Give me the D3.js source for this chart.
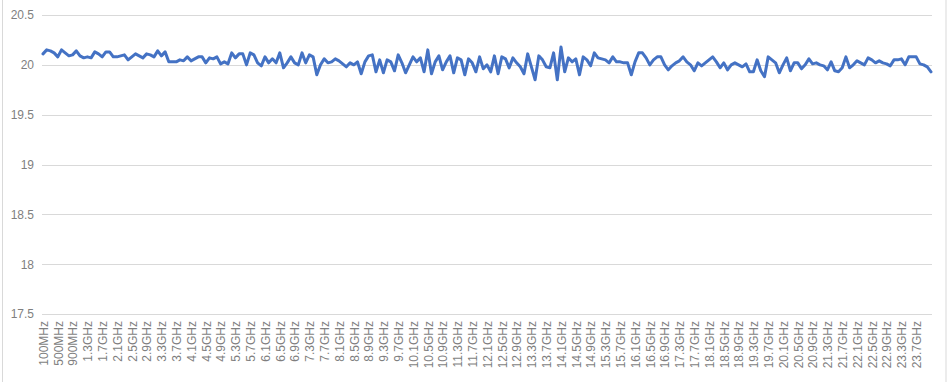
<!DOCTYPE html>
<html>
<head>
<meta charset="utf-8">
<script src="https://cdn.jsdelivr.net/npm/d3@7"></script>
<style>
    body { margin: 0; background: #fff; }
    svg { display: block; font-family: 'Noto Sans', 'Noto Sans CJK SC', sans-serif; }
</style>
</head>
<body>
<svg id="chart" width="949" height="382"></svg>
<script>
// frequency points, 100MHz steps from 100MHz to 24.1GHz
var freqMHz = d3.range(100, 24101, 100)

var yTicks = [17.5, 18, 18.5, 19, 19.5, 20, 20.5]

// one label every fourth point
var tickLabels = ['100MHz', '500MHz', '900MHz', '1.3GHz', '1.7GHz', '2.1GHz', '2.5GHz', '2.9GHz',
    '3.3GHz', '3.7GHz', '4.1GHz', '4.5GHz', '4.9GHz', '5.3GHz', '5.7GHz', '6.1GHz', '6.5GHz',
    '6.9GHz', '7.3GHz', '7.7GHz', '8.1GHz', '8.5GHz', '8.9GHz', '9.3GHz', '9.7GHz', '10.1GHz',
    '10.5GHz', '10.9GHz', '11.3GHz', '11.7GHz', '12.1GHz', '12.5GHz', '12.9GHz', '13.3GHz',
    '13.7GHz', '14.1GHz', '14.5GHz', '14.9GHz', '15.3GHz', '15.7GHz', '16.1GHz', '16.5GHz',
    '16.9GHz', '17.3GHz', '17.7GHz', '18.1GHz', '18.5GHz', '18.9GHz', '19.3GHz', '19.7GHz',
    '20.1GHz', '20.5GHz', '20.9GHz', '21.3GHz', '21.7GHz', '22.1GHz', '22.5GHz', '22.9GHz',
    '23.3GHz', '23.7GHz']

var levels = [
    20.11, 20.15, 20.14, 20.12, 20.08, 20.15, 20.12, 20.09, 20.10, 20.14,
    20.09, 20.07, 20.08, 20.07, 20.13, 20.11, 20.08, 20.13, 20.13, 20.08,
    20.08, 20.09, 20.10, 20.05, 20.08, 20.11, 20.09, 20.07, 20.11, 20.10,
    20.08, 20.14, 20.09, 20.13, 20.03, 20.03, 20.03, 20.05, 20.04, 20.08,
    20.04, 20.06, 20.08, 20.08, 20.02, 20.07, 20.06, 20.08, 20.01, 20.03,
    20.01, 20.12, 20.07, 20.11, 20.11, 20.00, 20.12, 20.10, 20.02, 19.99,
    20.08, 20.02, 20.06, 20.02, 20.12, 19.97, 20.02, 20.08, 20.02, 20.00,
    20.12, 20.02, 20.10, 20.08, 19.90, 20.00, 20.06, 20.02, 20.03, 20.06,
    20.04, 20.01, 19.98, 20.02, 20.00, 20.03, 19.91, 20.03, 20.09, 20.10,
    19.93, 20.05, 19.92, 20.05, 20.03, 19.94, 20.10, 20.02, 19.92, 20.00,
    20.08, 20.03, 20.07, 19.93, 20.15, 19.91, 20.03, 20.09, 19.95, 20.03,
    20.09, 19.92, 20.07, 20.05, 19.90, 20.06, 20.02, 19.93, 20.08, 19.96,
    20.00, 19.93, 20.09, 19.91, 20.08, 20.06, 19.97, 20.07, 20.02, 19.98,
    19.91, 20.11, 19.98, 19.85, 20.09, 20.05, 19.98, 19.97, 20.12, 19.85,
    20.18, 19.93, 20.07, 20.03, 20.06, 19.90, 20.08, 20.05, 19.99, 20.12,
    20.07, 20.06, 20.05, 20.02, 20.08, 20.03, 20.03, 20.02, 20.02, 19.90,
    20.03, 20.12, 20.12, 20.07, 20.00, 20.05, 20.08, 20.08, 20.00, 19.95,
    19.99, 20.02, 20.04, 20.08, 20.03, 20.00, 19.94, 20.02, 19.99, 20.02,
    20.05, 20.08, 20.03, 19.97, 20.02, 19.95, 20.00, 20.02, 20.00, 19.98,
    20.01, 19.93, 19.93, 20.05, 19.94, 19.88, 20.08, 20.05, 20.02, 19.92,
    20.00, 20.07, 19.94, 20.02, 20.02, 19.96, 20.00, 20.06, 20.01, 20.02,
    20.00, 19.99, 19.95, 20.03, 19.94, 19.93, 19.97, 20.08, 19.97, 20.00,
    20.04, 20.02, 20.00, 20.07, 20.05, 20.02, 20.04, 20.02, 20.01, 19.99,
    20.05, 20.05, 20.06, 20.00, 20.08, 20.08, 20.08, 20.01, 20.00, 19.98,
    19.93
]

var plotLeft = 42
var plotRight = 932
var plotTop = 15
var plotBottom = 314

function drawChart() {
    var svg = d3.select('#chart')

    // chart area border
    svg.append('rect')
        .attr('x', 2.5)
        .attr('y', -2)
        .attr('width', 943.5)
        .attr('height', 390)
        .style('fill', 'none')
        .style('stroke', '#d9d9d9')

    var xScale = d3.scalePoint()
        .domain(freqMHz)
        .range([plotLeft + 1, plotRight - 1])

    var yScale = d3.scaleLinear()
        .domain([17.5, 20.5])
        .range([plotBottom, plotTop])

    // horizontal gridlines + y labels
    var yAxis = d3.axisLeft(yScale)
        .tickValues(yTicks)
        .tickSize(-(plotRight - plotLeft))
        .tickPadding(8)
        .tickFormat(d3.format('~g'))

    var gy = svg.append('g')
        .attr('transform', 'translate(' + plotLeft + ',0)')
        .call(yAxis)
    gy.select('.domain').remove()
    gy.selectAll('line')
        .style('stroke', '#d9d9d9')
        .attr('shape-rendering', 'crispEdges')
    gy.selectAll('text')
        .style('fill', '#7f7f7f')
        .style('font-size', '12px')

    // category labels, rotated
    var labelFreqs = freqMHz.filter(function (d, i) { return i % 4 === 0 }).slice(0, tickLabels.length)
    var xAxis = d3.axisBottom(xScale)
        .tickValues(labelFreqs)
        .tickSize(0)
        .tickFormat(function (d, i) { return tickLabels[i] })

    var gx = svg.append('g')
        .attr('transform', 'translate(0,' + plotBottom + ')')
        .call(xAxis)
    gx.select('.domain').remove()
    gx.selectAll('text')
        .attr('transform', 'rotate(-90)')
        .attr('x', -7)
        .attr('y', 0)
        .attr('dy', '0.35em')
        .style('text-anchor', 'end')
        .style('fill', '#7f7f7f')
        .style('font-size', '12px')

    var line = d3.line()
        .x(function (d, i) { return xScale(freqMHz[i]) })
        .y(function (d) { return yScale(d) })

    svg.append('path')
        .datum(levels)
        .attr('d', line)
        .style('fill', 'none')
        .style('stroke', '#4472c4')
        .style('stroke-width', 3)
        .style('stroke-linejoin', 'round')
        .style('stroke-linecap', 'round')
}

drawChart()
</script>
</body>
</html>
